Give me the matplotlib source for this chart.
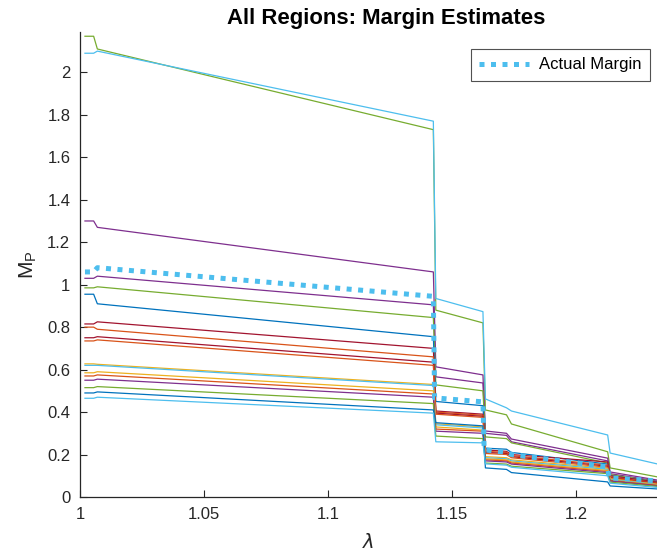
import matplotlib
matplotlib.use("Agg")
import matplotlib.pyplot as plt

# MATLAB default colour order
B = "#0072BD"
O = "#D95319"
Y = "#EDB120"
P = "#7E2F8E"
G = "#77AC30"
C = "#4DBEEE"
R = "#A2142F"

# breakpoints along lambda where the estimates step down
lam = [1.002, 1.0055, 1.007, 1.1425, 1.1435, 1.1625, 1.1635,
       1.172, 1.174, 1.2128, 1.2138, 1.2327]

# values per region: start, after 1st step, before/after each drop, end
region_colors = [G, C, P, P, G, B, R, O, R, O, Y, C, Y, O, P, G, B, C]
region_vals = [
    [2.17, 2.11, 1.73, 0.88, 0.82, 0.41, 0.387, 0.344, 0.213, 0.137, 0.095],
    [2.09, 2.10, 1.77, 0.935, 0.873, 0.462, 0.42, 0.405, 0.292, 0.207, 0.156],
    [1.30, 1.27, 1.06, 0.613, 0.575, 0.311, 0.30, 0.273, 0.183, 0.118, 0.08],
    [1.03, 1.04, 0.905, 0.566, 0.537, 0.30, 0.29, 0.26, 0.17, 0.11, 0.075],
    [0.985, 0.99, 0.845, 0.528, 0.50, 0.283, 0.275, 0.255, 0.16, 0.105, 0.072],
    [0.955, 0.91, 0.755, 0.45, 0.43, 0.23, 0.225, 0.21, 0.155, 0.10, 0.07],
    [0.815, 0.825, 0.70, 0.405, 0.39, 0.222, 0.215, 0.20, 0.165, 0.10, 0.07],
    [0.80, 0.79, 0.66, 0.40, 0.385, 0.215, 0.21, 0.195, 0.15, 0.095, 0.066],
    [0.75, 0.755, 0.635, 0.395, 0.38, 0.21, 0.205, 0.19, 0.145, 0.092, 0.064],
    [0.735, 0.74, 0.62, 0.39, 0.375, 0.205, 0.20, 0.185, 0.14, 0.09, 0.062],
    [0.627, 0.625, 0.53, 0.345, 0.33, 0.19, 0.185, 0.175, 0.135, 0.085, 0.06],
    [0.62, 0.62, 0.525, 0.34, 0.325, 0.185, 0.18, 0.17, 0.13, 0.083, 0.058],
    [0.585, 0.59, 0.50, 0.33, 0.315, 0.18, 0.175, 0.165, 0.125, 0.08, 0.056],
    [0.57, 0.575, 0.485, 0.32, 0.31, 0.175, 0.17, 0.16, 0.12, 0.078, 0.055],
    [0.55, 0.555, 0.47, 0.31, 0.30, 0.17, 0.165, 0.155, 0.115, 0.075, 0.053],
    [0.515, 0.52, 0.44, 0.287, 0.275, 0.16, 0.155, 0.145, 0.11, 0.07, 0.05],
    [0.49, 0.495, 0.41, 0.35, 0.335, 0.137, 0.13, 0.115, 0.071, 0.052, 0.038],
    [0.465, 0.47, 0.395, 0.26, 0.255, 0.156, 0.15, 0.14, 0.10, 0.065, 0.045],
]

# actual margin
act_lam = [1.002, 1.0055, 1.007, 1.1425, 1.1430, 1.1625, 1.1630,
           1.172, 1.174, 1.2128, 1.2133, 1.2327]
act_vals = [1.06, 1.06, 1.08, 0.945, 0.467, 0.448, 0.222,
            0.21, 0.20, 0.142, 0.09, 0.076]

xticks = [1, 1.05, 1.1, 1.15, 1.2]
xtick_labels = ["1", "1.05", "1.1", "1.15", "1.2"]
yticks = [0, 0.2, 0.4, 0.6, 0.8, 1, 1.2, 1.4, 1.6, 1.8, 2]
ytick_labels = ["0", "0.2", "0.4", "0.6", "0.8", "1", "1.2", "1.4", "1.6", "1.8", "2"]

plt.rcParams["font.family"] = ["Liberation Sans", "DejaVu Sans"]
dark = "#262626"

fig = plt.figure(figsize=(6.57, 5.54), dpi=100)
ax = fig.add_axes([80 / 657, 1 - 497 / 554, 1 - 80 / 657, (497 - 32) / 554])

for col, v in zip(region_colors, region_vals):
    yv = [v[0]] + v  # flat until the first small step
    ax.plot(lam, yv, color=col, linewidth=0.9)

ax.plot(act_lam, act_vals, color=C, linewidth=3.6, linestyle=(0, (1, 1.3)),
        label="Actual Margin", zorder=5)

ax.set_xlim(1, 1.2327)
ax.set_ylim(0, 2.19)
ax.set_xticks(xticks)
ax.set_xticklabels(xtick_labels)
ax.set_yticks(yticks)
ax.set_yticklabels(ytick_labels)
ax.tick_params(direction="in", length=5, width=0.8, colors=dark,
               labelsize=12, pad=7)
for side in ["top", "right"]:
    ax.spines[side].set_visible(False)
for side in ["left", "bottom"]:
    ax.spines[side].set_color(dark)
    ax.spines[side].set_linewidth(0.9)

# the original axes run past the cropped right edge, so the title sits right of centre
title = ax.set_title("All Regions: Margin Estimates", fontsize=15.9,
                     fontweight="bold", color="black", pad=6)
title.set_x(0.53)
ax.set_xlabel(r"$\lambda$", fontsize=14, color=dark, labelpad=8)
ax.set_ylabel(r"M$_\mathregular{P}$", fontsize=15, color=dark, labelpad=6)

leg = ax.legend(loc="upper right", bbox_to_anchor=(650 / 657, 1 - 49 / 554),
                bbox_transform=fig.transFigure, fontsize=12, frameon=True,
                fancybox=False, handlelength=3.0, borderpad=0.5,
                handletextpad=0.6, borderaxespad=0)
leg.get_frame().set_edgecolor(dark)
leg.get_frame().set_linewidth(0.8)

fig.savefig("out.png", dpi=100)
